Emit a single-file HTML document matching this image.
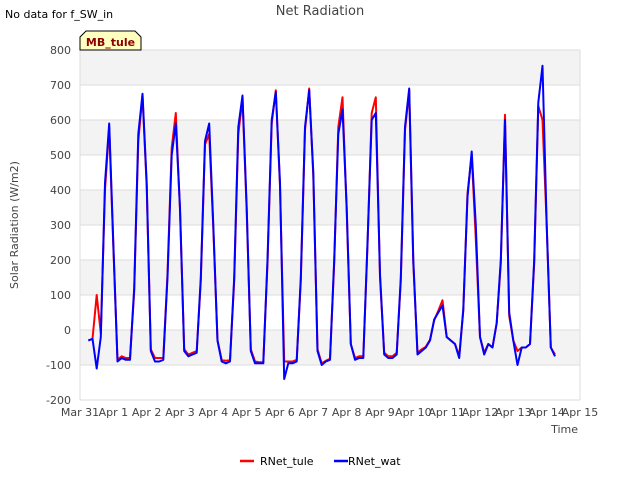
<!DOCTYPE html>
<html><head><meta charset="utf-8"><style>
body{margin:0;background:#fff;font-family:"Liberation Sans","DejaVu Sans",sans-serif}
svg text{font-family:"DejaVu Sans","Liberation Sans",sans-serif}
</style></head><body>
<svg id="chart" width="640" height="480" viewBox="0 0 640 480" xmlns="http://www.w3.org/2000/svg">
<text x="5" y="18" font-size="11" fill="#000">No data for f_SW_in</text>
<text x="320" y="15" font-size="13" fill="#444" text-anchor="middle">Net Radiation</text>
<g id="bands"></g>
<g id="grid"></g>
<g id="yticks"></g>
<g id="xticks"></g>
<g id="series"></g>
<text transform="translate(18,225) rotate(-90)" font-size="11" fill="#444" text-anchor="middle">Solar Radiation (W/m2)</text>
<text x="578" y="433" font-size="11" fill="#444" text-anchor="end">Time</text>
<g>
<path d="M80,50 L80,37 L86,31 L135,31 L141,37 L141,50 Z" fill="#ffffc0" stroke="#000" stroke-width="1"/>
<text x="110.5" y="46" font-size="11" font-weight="bold" fill="#8b0000" text-anchor="middle">MB_tule</text>
</g>
<g>
<g><line x1="240" y1="461" x2="254" y2="461" stroke="#ff0000" stroke-width="2.5"/><text x="260" y="465" font-size="11" fill="#000">RNet_tule</text></g>
<g><line x1="334" y1="461" x2="348" y2="461" stroke="#0000ff" stroke-width="2.5"/><text x="348" y="465" font-size="11" fill="#000" dx="0">RNet_wat</text></g>
</g>
</svg>
<script>
const xTickLabels=["Mar 31","Apr 1","Apr 2","Apr 3","Apr 4","Apr 5","Apr 6","Apr 7","Apr 8","Apr 9","Apr 10","Apr 11","Apr 12","Apr 13","Apr 14","Apr 15"];
const yTicks=[-200,-100,0,100,200,300,400,500,600,700,800];
const startHour=6, stepHours=3;
const wat=[-30,-25,-110,-20,420,590,250,-90,-80,-85,
-85,120,560,675,420,-60,-90,-90,
-85,150,500,590,350,-60,-75,-70,
-65,150,540,590,300,-30,-90,-95,
-90,150,580,670,350,-60,-95,-95,
-95,200,600,680,420,-140,-95,-95,
-90,150,580,685,450,-60,-100,-90,
-85,200,560,630,350,-40,-85,-80,
-80,250,600,620,160,-70,-80,-80,
-70,150,580,690,200,-70,-60,-50,
-30,30,50,70,-20,-30,-40,-80,
60,380,510,300,-20,-70,-40,-50,
20,200,600,50,-30,-100,-50,-50,
-40,200,650,755,300,-50,-75];
const tule=[-30,-25,100,-10,400,580,240,-85,-75,-80,
-80,110,540,670,410,-55,-80,-80,
-80,160,520,620,340,-55,-70,-65,
-60,140,530,560,290,-30,-85,-88,
-85,140,560,660,340,-55,-90,-92,
-92,190,590,685,410,-90,-90,-90,
-85,140,570,690,440,-55,-95,-88,
-82,190,580,665,340,-40,-80,-75,
-75,240,620,665,150,-65,-75,-75,
-65,140,570,685,190,-65,-55,-48,
-28,28,55,85,-20,-30,-40,-75,
55,390,500,260,-20,-65,-40,-50,
20,190,615,40,-30,-60,-50,-50,
-40,190,640,600,300,-50,-70];
const X0=80,X1=580,Y0=400,Y1=50;
const xScale=h=>X0+(h/24)*(X1-X0)/15;
const yScale=v=>Y0-(v+200)*(Y0-Y1)/1000;
const NS="http://www.w3.org/2000/svg";
function mk(tag,attrs,parent){const e=document.createElementNS(NS,tag);for(const k in attrs)e.setAttribute(k,attrs[k]);document.getElementById(parent).appendChild(e);return e;}
// bands
for(let i=0;i<yTicks.length-1;i++){
  const lo=yTicks[i],hi=yTicks[i+1];
  const gray=((lo+100)/100)%2===0;
  const r=mk('rect',{x:X0,y:yScale(hi),width:X1-X0,height:yScale(lo)-yScale(hi),fill:gray?'#f3f3f3':'#ffffff'},'bands');
  
  
}
yTicks.forEach(v=>{
  const l=mk('line',{x1:X0,x2:X1,y1:yScale(v),y2:yScale(v),stroke:'#dcdcdc','stroke-width':1},'grid');
  
  
  const t=mk('text',{x:71,y:yScale(v)+4,'font-size':11,fill:'#444','text-anchor':'end'},'yticks');
  
  
  t.textContent=v;
});
mk('line',{x1:X0,x2:X0,y1:Y1,y2:Y0,stroke:'#dcdcdc'},'grid');
mk('line',{x1:X1,x2:X1,y1:Y1,y2:Y0,stroke:'#dcdcdc'},'grid');
xTickLabels.forEach((s,i)=>{
  const x=xScale(i*24);
  const t=mk('text',{x:x,y:416,'font-size':11,fill:'#444','text-anchor':'middle'},'xticks');
  
  
  t.textContent=s;
});
function drawSeries(vals,color,name){
  const pts=vals.map((v,i)=>xScale(startHour+i*stepHours).toFixed(1)+','+yScale(v).toFixed(1)).join(' ');
  const p=mk('polyline',{points:pts,fill:'none',stroke:color,'stroke-width':2,'stroke-linejoin':'round'},'series');
  
  
}
drawSeries(tule,'#ff0000','rnet-tule-line');
drawSeries(wat,'#0000ff','rnet-wat-line');
</script>
</body></html>
